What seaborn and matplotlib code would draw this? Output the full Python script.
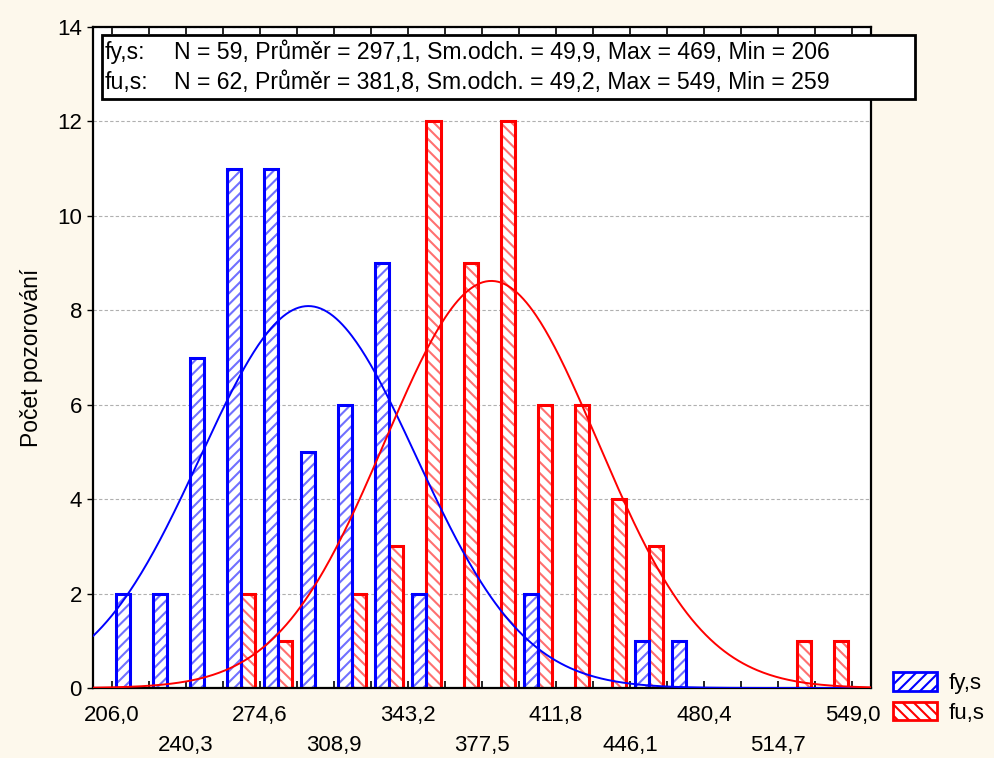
import numpy as np
import pandas as pd
import seaborn as sns
import matplotlib.pyplot as plt
from matplotlib.patches import Patch, Rectangle

# ---- data ----
series_names = ["fy,s", "fu,s"]
bin_start = 206.0
bin_end = 549.0
n_bins = 20
fy_counts = [2, 2, 7, 11, 11, 5, 6, 9, 2, 0, 0, 2, 0, 0, 1, 1, 0, 0, 0, 0]
fu_counts = [0, 0, 0, 2, 1, 0, 2, 3, 12, 9, 12, 6, 6, 4, 3, 0, 0, 0, 1, 1]
stat_N = [59, 62]
stat_mean = [297.1, 381.8]
stat_sd = [49.9, 49.2]
stat_max = [469, 549]
stat_min = [206, 259]
x_tick_labels = ["206,0", "240,3", "274,6", "308,9", "343,2", "377,5",
                 "411,8", "446,1", "480,4", "514,7", "549,0"]
y_ticks = [0, 2, 4, 6, 8, 10, 12, 14]
colors = ["#0000FF", "#FF0000"]
hatch_colors = ["#7070FF", "#FF7070"]
hatches = ["///", "\\\\\\"]

# ---- derived ----
bin_width = (bin_end - bin_start) / n_bins
edges = bin_start + bin_width * np.arange(n_bins + 1)
centers = (edges[:-1] + edges[1:]) / 2
df = pd.DataFrame({
    "x": np.concatenate([centers, centers]),
    "count": np.concatenate([fy_counts, fu_counts]).astype(float),
    "series": [series_names[0]] * n_bins + [series_names[1]] * n_bins,
})

sns.set_style("white")
plt.rcParams["font.family"] = ["Liberation Sans", "DejaVu Sans"]
plt.rcParams["hatch.linewidth"] = 1.5
plt.rcParams["text.color"] = "black"
plt.rcParams["axes.labelcolor"] = "black"
plt.rcParams["xtick.color"] = "black"
plt.rcParams["ytick.color"] = "black"

bg = "#FDF8EC"
fig = plt.figure(figsize=(9.95, 7.58), dpi=100, facecolor=bg)
ax = fig.add_axes([0.0935, 0.0923, 0.7819, 0.8721])
ax.set_facecolor("white")

# two passes: hatched fill, then solid outline
for layer in range(2):
    n_before = len(ax.patches)
    sns.histplot(data=df, x="x", weights="count", hue="series", hue_order=series_names,
                 palette=dict(zip(series_names, colors)), bins=list(edges), multiple="dodge",
                 shrink=0.76, fill=True, alpha=1, legend=False, ax=ax)
    for p in ax.patches[n_before:]:
        fc = p.get_facecolor()
        idx = 1 if fc[0] > 0.5 else 0
        if p.get_height() <= 0:
            p.set_visible(False)
            continue
        if layer == 0:
            p.set_facecolor("white")
            p.set_edgecolor(hatch_colors[idx])
            p.set_hatch(hatches[idx])
            p.set_linewidth(0)
            p.set_zorder(2)
        else:
            p.set_facecolor("none")
            p.set_edgecolor(colors[idx])
            p.set_linewidth(2.2)
            p.set_zorder(2.5)

xs = np.linspace(bin_start - bin_width / 2, bin_end + bin_width / 2, 500)
for i in range(2):
    ys = stat_N[i] * bin_width * np.exp(-0.5 * ((xs - stat_mean[i]) / stat_sd[i]) ** 2) / (stat_sd[i] * np.sqrt(2 * np.pi))
    sns.lineplot(x=xs, y=ys, color=colors[i], linewidth=1.4, ax=ax, zorder=3)

ax.set_xlim(bin_start - bin_width / 2, bin_end + bin_width / 2)
ax.set_ylim(0, 14)
ax.set_yticks(y_ticks)
ax.set_yticklabels([str(v) for v in y_ticks], fontsize=16)
ax.grid(axis="y", color="#b0b0b0", linestyle=(0, (3, 2)), linewidth=0.8, zorder=0)
ax.set_axisbelow(True)

labels = []
for k in range(n_bins + 1):
    if k % 2 == 0:
        lab = x_tick_labels[k // 2]
        labels.append(lab if (k // 2) % 2 == 0 else "\n" + lab)
    else:
        labels.append("")
ax.set_xticks(edges)
ax.set_xticklabels(labels, fontsize=16, linespacing=1.55)
ax.tick_params(axis="x", direction="in", length=5, width=1.2, top=True, bottom=True, pad=12)
ax.tick_params(axis="y", direction="out", length=4, width=1.0, left=True, pad=4)
ax.set_xlabel("")
ax.set_ylabel("Počet pozorování", fontsize=16.5, labelpad=10)
for s in ax.spines.values():
    s.set_color("black")
    s.set_linewidth(1.6)


def cz(v):
    return f"{v:.1f}".replace(".", ",")


# statistics box
box = Rectangle((102 / 995, 1 - 99 / 758), (915 - 102) / 995, (99 - 35) / 758,
                transform=fig.transFigure, facecolor="white", edgecolor="black",
                linewidth=2, zorder=5)
fig.add_artist(box)
for i in range(2):
    ypix = 53 + 29 * i
    fig.text(105 / 995, 1 - ypix / 758, f"{series_names[i]}:", fontsize=16.6, va="center", ha="left", zorder=6)
    txt = (f"N = {stat_N[i]}, Průměr = {cz(stat_mean[i])}, Sm.odch. = {cz(stat_sd[i])}, "
           f"Max = {stat_max[i]}, Min = {stat_min[i]}")
    fig.text(174 / 995, 1 - ypix / 758, txt, fontsize=16.6, va="center", ha="left", zorder=6)

handles = [Patch(facecolor="white", edgecolor=colors[i], hatch=hatches[i], linewidth=2) for i in range(2)]
fig.legend(handles, series_names, loc="lower left", bbox_to_anchor=(0.8975, 0.045),
           frameon=False, fontsize=16, handlelength=2.0, handleheight=0.9,
           handletextpad=0.5, labelspacing=0.35, borderaxespad=0, borderpad=0)

fig.savefig("out.png", dpi=100, facecolor=bg)
